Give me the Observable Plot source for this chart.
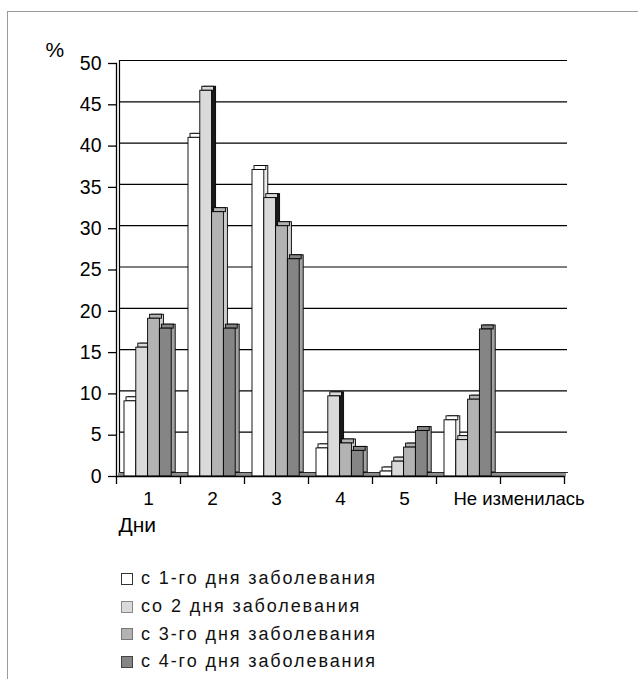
<!DOCTYPE html>
<html>
<head>
<meta charset="utf-8">
<script src="https://cdn.jsdelivr.net/npm/d3@7"></script>
<script src="https://cdn.jsdelivr.net/npm/@observablehq/plot@0.6"></script>
<style>
  body { margin: 0; background: #fff; overflow: hidden; font-family: "Liberation Sans", Arial, sans-serif; }
  #wrap { position: relative; width: 638px; height: 679px; overflow: hidden; }
  #border { position: absolute; left: 7px; top: 11px; width: 700px; height: 700px; border: 1px solid #9a9a9a; box-sizing: border-box; }
  #chart { position: absolute; left: 0; top: 0; }
  #legend { position: absolute; left: 121px; top: 565px; font-size: 18px; letter-spacing: 1.9px; color: #111; }
  .row { height: 27.7px; display: flex; align-items: center; white-space: nowrap; }
  .sw { display: inline-block; width: 12px; height: 12px; box-sizing: border-box; border: 1px solid #333; margin-right: 8px; }
</style>
</head>
<body>
<div id="wrap">
  <div id="border"></div>
  <div id="chart"></div>
  <div id="legend"></div>
</div>
<script>
// ---- data ----
const categories = ["1", "2", "3", "4", "5", "Не изменилась"];
const seriesNames = ["с 1-го дня заболевания", "со 2 дня заболевания", "с 3-го дня заболевания", "с 4-го дня заболевания"];
const s1 = [9.1, 41.0, 37.1, 3.4, 0.6, 6.8];
const s2 = [15.6, 46.7, 33.7, 9.7, 1.8, 4.4];
const s3 = [19.1, 32.0, 30.3, 4.0, 3.5, 9.3];
const s4 = [17.9, 17.9, 26.3, 3.1, 5.5, 17.8];
const yTicks = [0, 5, 10, 15, 20, 25, 30, 35, 40, 45, 50];
const yLabel = "%";
const xLabel = "Дни";

// ---- styling ----
const frontColors = ["#ffffff", "#dadada", "#b3b3b3", "#858585"];
const sideColors = ["#ececec", "#1a1a1a", "#cdcdcd", "#a3a3a3"];
const swatchBorders = ["#333", "#888", "#777", "#444"];

const allSeries = [s1, s2, s3, s4];
const xDomain = [...categories, ""];
const table = seriesNames.flatMap((name, i) =>
  categories.map((c, j) => ({series: name, si: i, cat: c, value: allSeries[i][j]}))
);

const band = 64;
const barW = 11.8;
const barStart = 8;
const insL = i => barStart + barW * i;
const insR = i => band - barStart - barW * (i + 1);

const sideMarks = seriesNames.map((n, i) => Plot.barY(table.filter(d => d.si === i), {
  x: "cat", y: "value", insetLeft: insL(i), insetRight: insR(i),
  dx: 4, dy: -4, fill: sideColors[i], stroke: "#000", strokeWidth: 0.9
}));
const topMarks = seriesNames.map((n, i) => Plot.barY(table.filter(d => d.si === i), {
  x: "cat", y1: "value", y2: "value", insetLeft: insL(i), insetRight: insR(i),
  insetTop: -4, dx: 2, fill: frontColors[i], stroke: "#000", strokeWidth: 0.9
}));
const frontMarks = seriesNames.map((n, i) => Plot.barY(table.filter(d => d.si === i), {
  x: "cat", y: "value", insetLeft: insL(i), insetRight: insR(i),
  fill: frontColors[i], stroke: "#000", strokeWidth: 0.9
}));

const chart = Plot.plot({
  width: 638,
  height: 545,
  marginLeft: 116,
  marginRight: 74,
  marginTop: 63,
  marginBottom: 69,
  style: {fontFamily: "'Liberation Sans', Arial, sans-serif", fontSize: "19px", color: "#000", background: "transparent"},
  x: {domain: xDomain, padding: 0},
  y: {domain: [0, 50]},
  marks: [
    // back wall gridlines
    Plot.ruleY(yTicks.filter(t => t > 0), {dx: 3, dy: -3, stroke: "#000", strokeWidth: 1.2}),
    Plot.frame({anchor: "left", dx: 3, dy: -3, stroke: "#000", strokeWidth: 1.2}),
    // floor
    Plot.ruleY([0], {dx: 2, dy: -2, stroke: "#8c8c8c", strokeWidth: 4}),
    Plot.ruleY([0], {dx: 4, dy: -4, stroke: "#000", strokeWidth: 0.8}),
    ...sideMarks,
    ...topMarks,
    ...frontMarks,
    // front axes
    Plot.ruleY([0], {stroke: "#000", strokeWidth: 1.3}),
    Plot.frame({anchor: "left", stroke: "#000", strokeWidth: 1.3}),
    Plot.axisY({ticks: yTicks, tickSize: 8, tickPadding: 7, fontSize: 19.5, label: null, stroke: "#000", strokeWidth: 1.3}),
    Plot.axisX({ticks: xDomain, tickSize: 8, tickFormat: () => "", dx: -band / 2, label: null, stroke: "#000", strokeWidth: 1.3}),
    Plot.axisX({ticks: [xDomain[6]], tickSize: 8, tickFormat: () => "", dx: band / 2, label: null, stroke: "#000", strokeWidth: 1.3}),
    Plot.axisX({ticks: categories.slice(0, 5), tickSize: 0, tickPadding: 15, fontSize: 19, label: null}),
    Plot.axisX({ticks: [categories[5]], tickSize: 0, tickPadding: 15, fontSize: 18.5, textAnchor: "start", dx: -15, label: null}),
    Plot.text([yLabel], {frameAnchor: "top-left", textAnchor: "start", lineAnchor: "bottom", dx: -71, dy: -7, fontSize: 21}),
    Plot.text([xLabel], {frameAnchor: "bottom-left", textAnchor: "start", lineAnchor: "bottom", dx: 2, dy: 55, fontSize: 21})
  ]
});
document.getElementById("chart").appendChild(chart);

const legend = document.getElementById("legend");
seriesNames.forEach((name, i) => {
  const row = document.createElement("div");
  row.className = "row";
  const sw = document.createElement("span");
  sw.className = "sw";
  sw.style.background = frontColors[i];
  sw.style.borderColor = swatchBorders[i];
  row.appendChild(sw);
  row.appendChild(document.createTextNode(name));
  legend.appendChild(row);
});
</script>
</body>
</html>
